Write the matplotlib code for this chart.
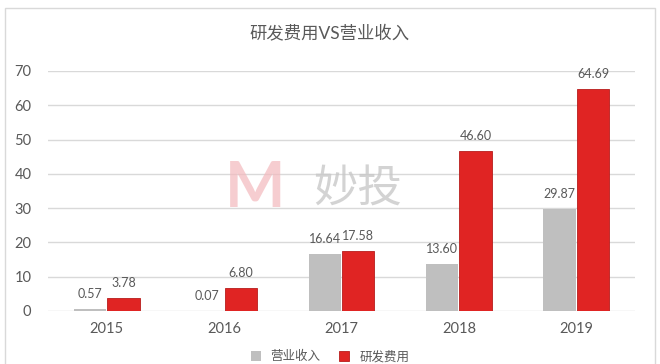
import matplotlib
matplotlib.use('Agg')
import matplotlib.pyplot as plt
import numpy as np
from matplotlib.patches import Rectangle

plt.rcParams['font.family'] = ['Lato', 'Noto Sans CJK SC', 'DejaVu Sans']

# data
years = ['2015', '2016', '2017', '2018', '2019']
revenue = [0.57, 0.07, 16.64, 13.60, 29.87]      # 营业收入 (gray)
rnd_cost = [3.78, 6.80, 17.58, 46.60, 64.69]     # 研发费用 (red)
series_names = ['营业收入', '研发费用']
yticks = [0, 10, 20, 30, 40, 50, 60, 70]

text_color = '#595959'
gray = '#bfbfbf'
red = '#e02423'

fig = plt.figure(figsize=(6.6, 3.64), dpi=100)
# outer chart frame
fig.patches.append(Rectangle((5 / 660, -0.1), 650 / 660, 1.1 - 8 / 364,
                             transform=fig.transFigure, fill=False,
                             edgecolor='#d9d9d9', linewidth=1.0))

ax = fig.add_axes([48 / 660, 1 - 311 / 364, 587 / 660, 240 / 364])

x = np.arange(len(years))
w = 0.275
b1 = ax.bar(x - w / 2 - 0.005, revenue, w, color=gray, label=series_names[0], zorder=3)
b2 = ax.bar(x + w / 2 + 0.005, rnd_cost, w, color=red, edgecolor='#b71c1c',
            linewidth=0.6, label=series_names[1], zorder=3)

for bars, vals in ((b1, revenue), (b2, rnd_cost)):
    for r, v in zip(bars, vals):
        ax.annotate(f'{v:.2f}', (r.get_x() + r.get_width() / 2, v),
                    xytext=(0, 6.5), textcoords='offset points',
                    ha='center', va='bottom', fontsize=9, color=text_color)

ax.set_xlim(-0.5, len(years) - 0.5)
ax.set_ylim(0, 70)
ax.set_yticks(yticks)
ax.set_xticks(x)
ax.set_xticklabels(years, fontsize=10.5, color=text_color)
ax.tick_params(axis='y', labelsize=10.5, colors=text_color, length=0, pad=12)
ax.tick_params(axis='x', length=0, pad=8)
ax.grid(axis='y', color='#d9d9d9', linewidth=1.0, zorder=0)
for s in ax.spines.values():
    s.set_visible(False)

fig.text(0.5, 1 - 33 / 364, '研发费用VS营业收入', ha='center', va='center',
         fontsize=12.5, color=text_color)

# watermark
fig.text(255 / 660, 1 - 188 / 364, 'M', ha='center', va='center', fontsize=46,
         fontweight='bold', color='#f3b9bd', alpha=0.7, zorder=1)
fig.text(358 / 660, 1 - 190 / 364, '妙投', ha='center', va='center', fontsize=32,
         color='#c8c8c8', alpha=0.8, zorder=1)

fig.legend(handles=[b1, b2], labels=series_names, loc='center',
           bbox_to_anchor=(0.5, 1 - 356 / 364), ncol=2, frameon=False,
           fontsize=9, labelcolor=text_color, handlelength=0.8, handleheight=0.8,
           columnspacing=1.5, borderpad=0.1)

fig.savefig('out.png', dpi=100, facecolor='white')
